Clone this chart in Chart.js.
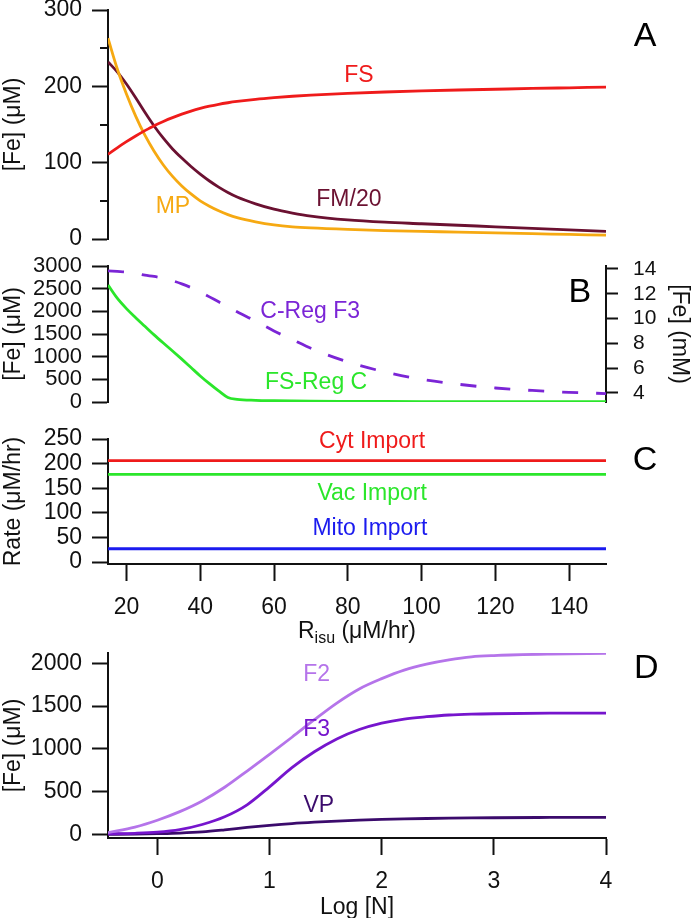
<!DOCTYPE html>
<html>
<head>
<meta charset="utf-8" />
<title>Fe panels A-D</title>
<script src="https://cdn.jsdelivr.net/npm/chart.js@4.4.1/dist/chart.umd.min.js"></script>
<style>
 body { margin: 0; background: #fff; }
 #wrap { position: relative; width: 693px; height: 918px; }
 #wrap canvas { position: absolute; left: 0; top: 0; }
</style>
</head>
<body>
<div id="wrap">
 <canvas id="panelA" width="693" height="918"></canvas>
 <canvas id="panelB" width="693" height="918"></canvas>
 <canvas id="panelC" width="693" height="918"></canvas>
 <canvas id="panelD" width="693" height="918"></canvas>
</div>
<script>
// ---- data ----
// panels A/B: x = R_isu (uM/hr)
var rIsu   = [15, 17.5, 20, 22.5, 25, 27.5, 30, 32.5, 35, 37.5, 40, 42.5, 45, 47.5, 50, 55, 60, 65, 70, 80, 90, 100, 110, 120, 130, 140, 150];
var feFS   = [111, 119.5, 127.5, 135, 142, 148.5, 154, 159, 163.5, 167.5, 171, 174, 176.5, 178.5, 180.2, 183, 185.2, 187, 188.5, 190.8, 192.6, 194, 195.2, 196.2, 197.2, 198.1, 199];
var feMP   = [263, 223, 190, 161, 136, 115, 97, 82, 69.5, 59, 50, 43, 37, 32, 28, 22.5, 18.5, 16, 14.5, 12.5, 11, 10, 9, 8, 7, 6, 5];
var feFM20 = [232, 219, 203, 185, 166, 148, 132, 118, 106, 95, 85, 76, 68, 61, 55, 46, 39, 34, 30, 25, 22, 20, 18, 16, 14, 12, 10];
var fsRegC = [2580, 2290, 2060, 1860, 1670, 1480, 1300, 1125, 945, 760, 575, 405, 245, 100, 60, 38, 28, 22, 18, 14, 11, 9, 8, 7, 6, 5, 5];
var cRegF3 = [13.85, 13.8, 13.75, 13.65, 13.5, 13.4, 13.25, 13.05, 12.8, 12.5, 12.15, 11.75, 11.35, 10.95, 10.55, 9.8, 9.0, 8.3, 7.6, 6.5, 5.7, 5.1, 4.7, 4.4, 4.2, 4.05, 3.95];

// panel C: import rates (flat)
var rateX      = [15, 150];
var cytImport  = [206, 206];
var vacImport  = [178, 178];
var mitoImport = [27, 27];

// panel D: x = Log [N]
var logN = [-0.44, -0.2, 0, 0.2, 0.4, 0.6, 0.8, 1.0, 1.2, 1.4, 1.6, 1.8, 2.0, 2.2, 2.4, 2.6, 2.8, 3.0, 3.5, 4.0];
var feF2 = [20, 85, 165, 265, 390, 550, 740, 935, 1135, 1340, 1535, 1700, 1820, 1920, 1990, 2040, 2075, 2090, 2108, 2117];
var feF3 = [5, 12, 25, 55, 115, 205, 345, 555, 780, 965, 1115, 1225, 1300, 1348, 1375, 1395, 1405, 1410, 1416, 1418];
var feVP = [0, 3, 8, 15, 28, 52, 80, 105, 126, 142, 155, 166, 174, 180, 185, 189, 192, 194, 197, 199];

// tick lists
var ticksA  = [0, 100, 200, 300];
var minorA  = [50, 150, 250];
var ticksB  = [0, 500, 1000, 1500, 2000, 2500, 3000];
var ticksB2 = [4, 6, 8, 10, 12, 14];
var ticksC  = [0, 50, 100, 150, 200, 250];
var ticksRx = [20, 40, 60, 80, 100, 120, 140];
var ticksD  = [0, 500, 1000, 1500, 2000];
var ticksDx = [0, 1, 2, 3, 4];

var RED = '#ef1b1b', ORANGE = '#f6a912', MAROON = '#6b1131', GREEN = '#2be62b',
    PURPLE = '#7b25d6', BLUE = '#1b1bef', F2C = '#b574ea', F3C = '#7615cd', VPC = '#3b0b6c';
var FONT = '"Liberation Sans", Arial, sans-serif';

Chart.defaults.font.family = FONT;
Chart.defaults.color = '#111';
Chart.defaults.animation = false;
Chart.defaults.plugins.legend.display = false;
Chart.defaults.plugins.tooltip.enabled = false;

function series(xs, ys, color, extra) {
 return Object.assign({
  data: xs.map(function (x, i) { return { x: x, y: ys[i] }; }),
  borderColor: color, borderWidth: 2.8, pointRadius: 0,
  cubicInterpolationMode: 'monotone', fill: false
 }, extra || {});
}

function fixTicks(list) {
 return function (ax) { ax.ticks = list.map(function (v) { return { value: v }; }); };
}

function plain(v) { return String(v); }

function yAxis(pos, min, max, list, title, width, fontSize, tickLen, pad) {
 return {
  type: 'linear', position: pos, min: min, max: max,
  afterBuildTicks: fixTicks(list),
  afterFit: function (ax) { ax.width = width; ax.paddingTop = 0; ax.paddingBottom = 0; },
  grid: { drawOnChartArea: false, tickLength: tickLen, tickWidth: 2, tickColor: '#111' },
  border: { display: true, color: '#111', width: 2 },
  ticks: { autoSkip: false, padding: pad, color: '#111', font: { size: fontSize }, callback: plain },
  title: { display: true, text: title, padding: 0, color: '#111', font: { size: 23 } }
 };
}

function xAxis(min, max, list, show) {
 if (!show) return { type: 'linear', min: min, max: max, display: false };
 return {
  type: 'linear', position: 'bottom', min: min, max: max,
  afterBuildTicks: fixTicks(list),
  afterFit: function (ax) { ax.height = 80; ax.paddingLeft = 0; ax.paddingRight = 0; },
  grid: { drawOnChartArea: false, tickLength: 17, tickWidth: 2, tickColor: '#111' },
  border: { display: true, color: '#111', width: 2 },
  ticks: { autoSkip: false, maxRotation: 0, padding: 13, color: '#111', font: { size: 23 }, callback: plain }
 };
}

// text labels placed in data coordinates of the panel
function notes(list, axisId) {
 return {
  id: 'notes',
  afterDraw: function (chart) {
   var ctx = chart.ctx, xs = chart.scales.x, ys = chart.scales[axisId || 'y'];
   ctx.save();
   ctx.textAlign = 'center';
   ctx.textBaseline = 'middle';
   list.forEach(function (n) {
    ctx.font = (n.s || 23) + 'px ' + FONT;
    ctx.fillStyle = n.c || '#000';
    ctx.fillText(n.t, xs.getPixelForValue(n.x), ys.getPixelForValue(n.y));
   });
   ctx.restore();
  }
 };
}

var minorTicks = {
 id: 'minorTicks',
 afterDraw: function (chart) {
  var ctx = chart.ctx, y = chart.scales.y, left = chart.chartArea.left;
  ctx.save();
  ctx.strokeStyle = '#111';
  ctx.lineWidth = 2;
  minorA.forEach(function (v) {
   var py = Math.round(y.getPixelForValue(v));
   ctx.beginPath();
   ctx.moveTo(left - 8, py);
   ctx.lineTo(left, py);
   ctx.stroke();
  });
  ctx.restore();
 }
};

// x title with subscript for panel C, plain for panel D
function xTitle(parts, gap) {
 return {
  id: 'xTitle',
  afterDraw: function (chart) {
   var ctx = chart.ctx, a = chart.chartArea, base = chart.scales.x.top + gap;
   ctx.save();
   ctx.fillStyle = '#111';
   ctx.textBaseline = 'alphabetic';
   var total = 0;
   parts.forEach(function (p) { ctx.font = p.s + 'px ' + FONT; p.w = ctx.measureText(p.t).width; total += p.w; });
   var x = (a.left + a.right) / 2 - total / 2;
   parts.forEach(function (p) {
    ctx.font = p.s + 'px ' + FONT;
    ctx.textAlign = 'left';
    ctx.fillText(p.t, x, base + (p.dy || 0));
    x += p.w;
   });
   ctx.restore();
  }
 };
}

var common = { responsive: false, devicePixelRatio: 1, animation: false };

// ---- panel A ----
new Chart(document.getElementById('panelA'), {
 type: 'line',
 data: { datasets: [
  series(rIsu, feFS, RED),
  series(rIsu, feMP, ORANGE),
  series(rIsu, feFM20, MAROON)
 ] },
 options: Object.assign({}, common, {
  layout: { padding: { top: 10, bottom: 679, left: 0, right: 87 } },
  scales: {
   x: xAxis(15, 150, null, false),
   y: yAxis('left', 0, 300, ticksA, '[Fe] (\u03bcM)', 108, 23, 16, 10)
  }
 }),
 plugins: [minorTicks, notes([
  { t: 'FS', x: 83, y: 213.5, c: RED },
  { t: 'MP', x: 32.6, y: 42, c: ORANGE },
  { t: 'FM/20', x: 80.3, y: 51, c: MAROON },
  { t: 'A', x: 160.6, y: 264.6, c: '#000', s: 34 }
 ])]
});

// ---- panel B ----
new Chart(document.getElementById('panelB'), {
 type: 'line',
 data: { datasets: [
  series(rIsu, fsRegC, GREEN, { yAxisID: 'y' }),
  series(rIsu, cRegF3, PURPLE, { yAxisID: 'y2', borderDash: [16, 18] })
 ] },
 options: Object.assign({}, common, {
  layout: { padding: { top: 266, bottom: 516, left: 0, right: 0 } },
  scales: {
   x: xAxis(15, 150, null, false),
   y: yAxis('left', 0, 3000, ticksB, '[Fe] (\u03bcM)', 108, 22, 16, 10),
   y2: yAxis('right', 3.27, 14.24, ticksB2, '[Fe] (mM)', 87, 21, 12, 15)
  }
 }),
 plugins: [notes([
  { t: 'C-Reg F3', x: 69.8, y: 1985, c: PURPLE },
  { t: 'FS-Reg C', x: 71.4, y: 419, c: GREEN },
  { t: 'B', x: 142.9, y: 2405, c: '#000', s: 34 }
 ])]
});

// ---- panel C ----
new Chart(document.getElementById('panelC'), {
 type: 'line',
 data: { datasets: [
  series(rateX, cytImport, RED),
  series(rateX, vacImport, GREEN),
  series(rateX, mitoImport, BLUE)
 ] },
 options: Object.assign({}, common, {
  layout: { padding: { top: 439, bottom: 274, left: 0, right: 87 } },
  scales: {
   x: xAxis(15, 150, ticksRx, true),
   y: yAxis('left', -4, 250, ticksC, 'Rate (\u03bcM/hr)', 108, 23, 16, 10)
  }
 }),
 plugins: [notes([
  { t: 'Cyt Import', x: 86.6, y: 244, c: RED },
  { t: 'Vac Import', x: 86.6, y: 138, c: GREEN },
  { t: 'Mito Import', x: 86, y: 67, c: BLUE },
  { t: 'C', x: 160.6, y: 207, c: '#000', s: 34 }
 ]), xTitle([
  { t: 'R', s: 23 },
  { t: 'isu', s: 16, dy: 5 },
  { t: ' (\u03bcM/hr)', s: 23 }
 ], 74)]
});

// ---- panel D ----
new Chart(document.getElementById('panelD'), {
 type: 'line',
 data: { datasets: [
  series(logN, feF2, F2C),
  series(logN, feF3, F3C),
  series(logN, feVP, VPC)
 ] },
 options: Object.assign({}, common, {
  layout: { padding: { top: 653, bottom: 0, left: 0, right: 87 } },
  scales: {
   x: xAxis(-0.44, 4, ticksDx, true),
   y: yAxis('left', -43, 2120, ticksD, '[Fe] (\u03bcM)', 108, 23, 16, 10)
  }
 }),
 plugins: [notes([
  { t: 'F2', x: 1.42, y: 1871, c: F2C },
  { t: 'F3', x: 1.42, y: 1229, c: F3C },
  { t: 'VP', x: 1.44, y: 330, c: VPC },
  { t: 'D', x: 4.36, y: 1941, c: '#000', s: 34 }
 ]), xTitle([{ t: 'Log [N]', s: 23 }], 76)]
});
</script>
</body>
</html>
